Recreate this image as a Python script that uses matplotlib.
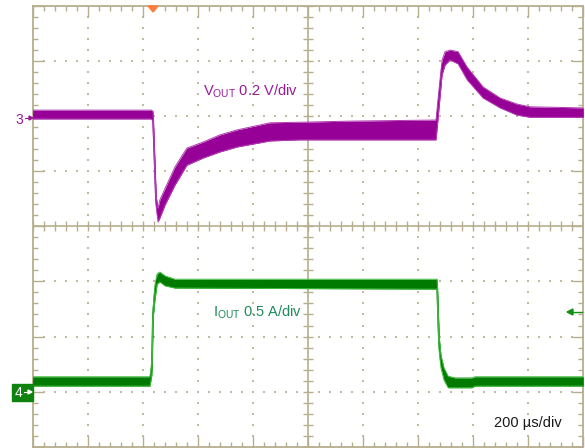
import numpy as np
import matplotlib
matplotlib.use("Agg")
import matplotlib.pyplot as plt
from matplotlib.patches import Polygon, Rectangle

plt.rcParams['font.family'] = ['Liberation Sans', 'DejaVu Sans']
plt.rcParams['mathtext.fontset'] = 'custom'
plt.rcParams['mathtext.rm'] = 'Liberation Sans'
plt.rcParams['mathtext.it'] = 'Liberation Sans:italic'
plt.rcParams['mathtext.bf'] = 'Liberation Sans:bold'

# ---- data (time in µs, trace position in screen divisions) ----
vout_t = [0, 430, 437, 448, 455, 462, 481, 517, 560, 619, 680, 742, 862, 971, 1153, 1465,
          1472, 1487, 1498, 1516, 1545, 1578, 1636, 1698, 1759, 1807, 2000]
vout_hi = [6.11, 6.11, 6.09, 4.57, 4.33, 4.48, 4.69, 5.08, 5.42, 5.53, 5.66, 5.75, 5.88, 5.89, 5.91, 5.93,
           6.29, 7.02, 7.17, 7.20, 7.17, 6.89, 6.53, 6.33, 6.22, 6.17, 6.15]
vout_lo = [5.95, 5.95, 5.91, 4.39, 4.08, 4.15, 4.39, 4.75, 5.11, 5.24, 5.35, 5.44, 5.55, 5.57, 5.57, 5.57,
           5.93, 6.75, 6.93, 7.02, 6.95, 6.66, 6.33, 6.15, 6.02, 5.98, 5.98]

iout_t = [0, 426, 433, 437, 444, 452, 462, 481, 517, 1469, 1472, 1476, 1483,
          1494, 1509, 1534, 1596, 1607, 2000]
iout_hi = [1.27, 1.27, 1.57, 2.48, 2.94, 3.14, 3.17, 3.10, 3.04, 3.04, 2.66, 2.03, 1.66,
           1.43, 1.28, 1.25, 1.25, 1.27, 1.27]
iout_lo = [1.10, 1.10, 1.30, 2.30, 2.66, 2.95, 2.99, 2.92, 2.88, 2.86, 2.30, 1.76, 1.43,
           1.21, 1.07, 1.07, 1.07, 1.10, 1.10]

time_per_div = 200  # µs
n_xdiv, n_ydiv = 10, 8
vout_label = r'V$_{\mathrm{OUT}}$ 0.2 V/div'
iout_label = r'I$_{\mathrm{OUT}}$ 0.5 A/div'
time_label = '200 µs/div'

W, H = 585, 448
fig = plt.figure(figsize=(W / 100, H / 100), dpi=100)
fig.patch.set_facecolor('white')
ax = fig.add_axes([32.7 / W, 1.3 / H, 550.6 / W, 440.7 / H])
ax.set_xlim(0, n_xdiv)
ax.set_ylim(0, n_ydiv)
ax.set_facecolor('white')

grid_c = '#b6ae8e'
dot_c = '#c2bba0'
for s in ax.spines.values():
    s.set_color(grid_c)
    s.set_linewidth(1.3)

ax.set_xticks(np.arange(0, n_xdiv + 1, 1))
ax.set_yticks(np.arange(0, n_ydiv + 1, 1))
ax.set_xticks(np.arange(0, n_xdiv + 0.01, 0.2), minor=True)
ax.set_yticks(np.arange(0, n_ydiv + 0.01, 0.2), minor=True)
ax.tick_params(which='both', direction='in', top=True, right=True, bottom=True, left=True,
               labelbottom=False, labelleft=False, color=grid_c, width=1.0)
ax.tick_params(which='major', length=8)
ax.tick_params(which='minor', length=3.6)

# dotted graticule
minor_x = np.arange(0, n_xdiv + 0.01, 0.2)
minor_y = np.arange(0, n_ydiv + 0.01, 0.2)
for yv in range(1, n_ydiv):
    if yv == n_ydiv // 2:
        continue
    ax.scatter(minor_x, np.full_like(minor_x, yv), s=2.0, marker='s', color=dot_c, lw=0, zorder=1)
for xv in range(1, n_xdiv):
    if xv == n_xdiv // 2:
        continue
    ax.scatter(np.full_like(minor_y, xv), minor_y, s=2.0, marker='s', color=dot_c, lw=0, zorder=1)

# center axes with ticks
ax.axhline(n_ydiv / 2, color=grid_c, lw=1.2, zorder=1)
ax.axvline(n_xdiv / 2, color=grid_c, lw=1.2, zorder=1)
ax.plot(minor_x, np.full_like(minor_x, n_ydiv / 2), ls='none', marker='|', ms=7, mew=1.0,
        color=grid_c, zorder=1)
ax.plot(np.full_like(minor_y, n_xdiv / 2), minor_y, ls='none', marker='_', ms=7, mew=1.0,
        color=grid_c, zorder=1)

# traces
def draw_trace(t, hi, lo, fill_c, edge_c):
    x = np.array(t) / time_per_div
    hi = np.array(hi)
    lo = np.array(lo)
    ax.fill_between(x, lo, hi, color=fill_c, lw=0, zorder=3)
    ax.plot(x, (hi + lo) / 2, color=fill_c, lw=1.3, zorder=3)
    ax.plot(x, hi, color=edge_c, lw=0.7, zorder=4)
    ax.plot(x, lo, color=edge_c, lw=0.7, zorder=4)

draw_trace(vout_t, vout_hi, vout_lo, '#960096', '#b23cb2')
draw_trace(iout_t, iout_hi, iout_lo, '#007a00', '#3cbc3c')

# labels
ax.text(3.09, 6.37, vout_label, color='#9b1a9b', fontsize=10.5, ha='left', va='baseline', zorder=5)
ax.text(3.27, 2.37, iout_label, color='#1f8a5c', fontsize=10.5, ha='left', va='baseline', zorder=5)
ax.text(8.38, 0.36, time_label, color='#1a1a1a', fontsize=10.5, ha='left', va='baseline', zorder=5)

def fp(x, y):
    return (x / W, 1 - y / H)

# channel 3 marker
fig.text(*fp(19, 120), '3', color='#9b1a9b', fontsize=10, ha='center', va='center')
fig.add_artist(matplotlib.lines.Line2D([25 / W, 30 / W], [1 - 118 / H, 1 - 118 / H],
                                       color='#9b1a9b', lw=0.8, transform=fig.transFigure))
fig.add_artist(Polygon([fp(33, 118), fp(29, 116), fp(29, 120)], closed=True,
                       color='#9b1a9b', transform=fig.transFigure))

# channel 4 marker
x0, y0 = fp(12, 401)
x1, y1 = fp(33, 384)
fig.add_artist(Rectangle((x0, y0), x1 - x0, y1 - y0, color='#0f820f',
                         transform=fig.transFigure))
fig.text(*fp(18.5, 392.5), '4', color='white', fontsize=10, ha='center', va='center')
fig.add_artist(matplotlib.lines.Line2D([24 / W, 29 / W], [1 - 392 / H, 1 - 392 / H],
                                       color='white', lw=0.8, transform=fig.transFigure))
fig.add_artist(Polygon([fp(32, 392), fp(28, 390), fp(28, 394)], closed=True,
                       color='white', transform=fig.transFigure))

# trigger position marker
fig.add_artist(Polygon([fp(148, 6), fp(158, 6), fp(153, 12)], closed=True,
                       color='#ff7f3a', transform=fig.transFigure, zorder=10))

# right side green arrow
fig.add_artist(matplotlib.lines.Line2D([572 / W, 582 / W], [1 - 312 / H, 1 - 312 / H],
                                       color='#119011', lw=1.0, transform=fig.transFigure,
                                       zorder=10))
fig.add_artist(Polygon([fp(567, 312), fp(573, 309), fp(573, 315)], closed=True,
                       color='#119011', transform=fig.transFigure, zorder=10))

fig.savefig('out.png', dpi=100)
